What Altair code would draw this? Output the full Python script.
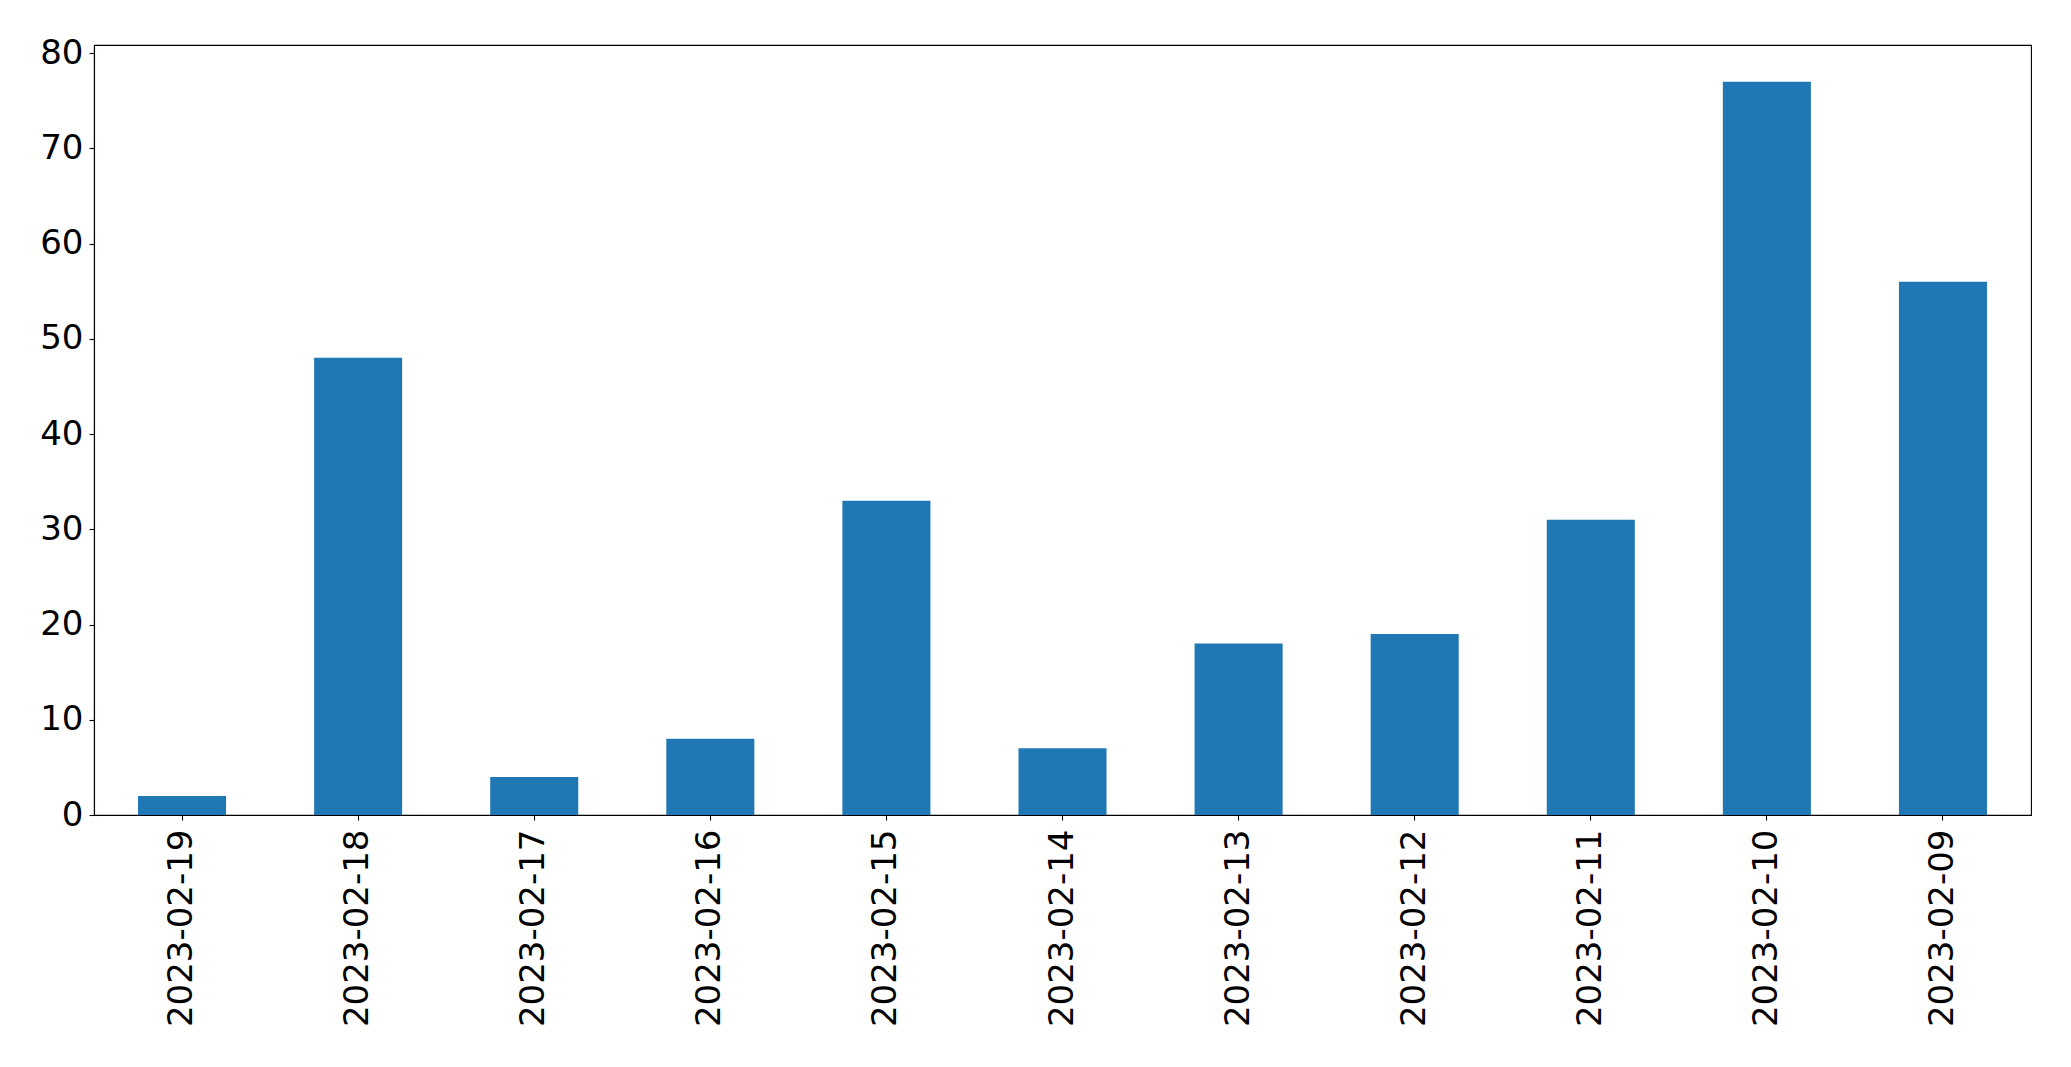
import altair as alt
import pandas as pd

dates = ["2023-02-19", "2023-02-18", "2023-02-17", "2023-02-16", "2023-02-15",
         "2023-02-14", "2023-02-13", "2023-02-12", "2023-02-11", "2023-02-10",
         "2023-02-09"]
counts = [2, 48, 4, 8, 33, 7, 18, 19, 31, 77, 56]
y_ticks = [0, 10, 20, 30, 40, 50, 60, 70, 80]

df = pd.DataFrame({"date": dates, "count": counts})

FONT = "DejaVu Sans"

chart = alt.Chart(df).mark_bar(color="#1f77b4").encode(
    x=alt.X("date:N", sort=dates,
            scale=alt.Scale(paddingInner=0.5, paddingOuter=0.25),
            axis=alt.Axis(title=None, labelAngle=-90, labelFontSize=34,
                          labelFont=FONT, labelColor="black", tickSize=5,
                          tickColor="black", tickWidth=1.1, domainColor="black",
                          domainWidth=1.1, labelPadding=9, labelLimit=0,
                          grid=False)),
    y=alt.Y("count:Q", scale=alt.Scale(domain=[0, 80.85], nice=False, zero=True),
            axis=alt.Axis(title=None, values=y_ticks, labelFontSize=34,
                          labelFont=FONT, labelColor="black", tickSize=5,
                          tickColor="black", tickWidth=1.1, domainColor="black",
                          domainWidth=1.1, labelPadding=6, grid=False)),
).properties(
    width=1937, height=770,
    autosize=alt.AutoSizeParams(type="none"),
    padding={"left": 86, "top": 37, "right": 20, "bottom": 230},
).configure_view(
    stroke="black", strokeWidth=1.1
)

chart.save("out.html", embed_options={"renderer": "svg", "actions": False})
